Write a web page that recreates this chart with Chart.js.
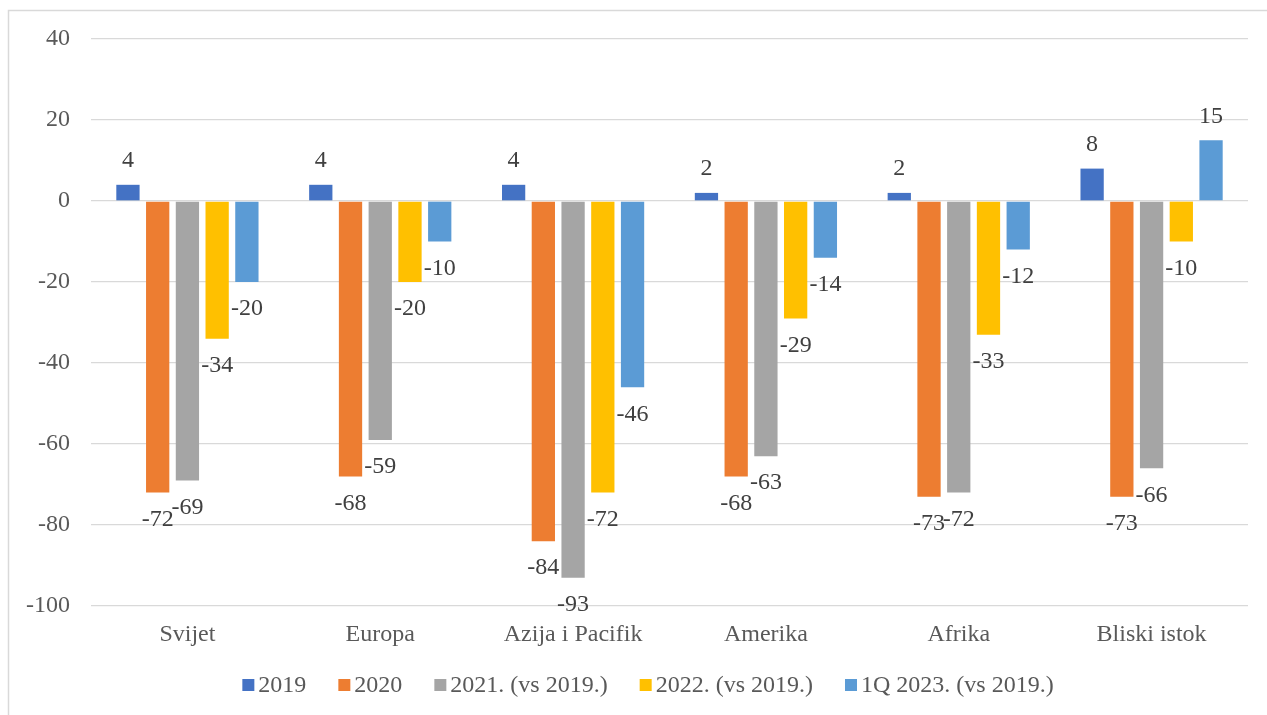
<!DOCTYPE html>
<html>
<head>
<meta charset="utf-8">
<script src="https://cdn.jsdelivr.net/npm/chart.js@4/dist/chart.umd.min.js"></script>
<style>
  html, body { margin: 0; padding: 0; background: #fff; }
  #wrap { position: relative; width: 1267px; height: 715px; overflow: hidden; }
</style>
</head>
<body>
<div id="wrap"><canvas id="chart" width="1267" height="715"></canvas></div>
<script>
const categories = ['Svijet', 'Europa', 'Azija i Pacifik', 'Amerika', 'Afrika', 'Bliski istok'];
const seriesNames = ['2019', '2020', '2021. (vs 2019.)', '2022. (vs 2019.)', '1Q 2023. (vs 2019.)'];
const values2019 = [4, 4, 4, 2, 2, 8];
const values2020 = [-72, -68, -84, -68, -73, -73];
const values2021 = [-69, -59, -93, -63, -72, -66];
const values2022 = [-34, -20, -72, -29, -33, -10];
const values1Q2023 = [-20, -10, -46, -14, -12, 15];
const yTicks = [40, 20, 0, -20, -40, -60, -80, -100];

const colors = ['#4472C4', '#ED7D31', '#A5A5A5', '#FFC000', '#5B9BD5'];
const FONT = '"Liberation Serif", "Times New Roman", serif';

// okvir grafikona (samo lijevi i gornji rub su vidljivi)
const framePlugin = {
  id: 'frame',
  beforeDraw(chart) {
    const ctx = chart.ctx;
    ctx.save();
    ctx.strokeStyle = '#D9D9D9';
    ctx.lineWidth = 1.5;
    ctx.strokeRect(8.5, 10.5, 1400, 900);
    ctx.restore();
  }
};

// oznake vrijednosti iznad / ispod stupaca
const labelsPlugin = {
  id: 'barLabels',
  afterDatasetsDraw(chart) {
    const ctx = chart.ctx;
    ctx.save();
    ctx.font = '24px ' + FONT;
    ctx.fillStyle = '#404040';
    ctx.textAlign = 'center';
    ctx.textBaseline = 'middle';
    chart.data.datasets.forEach((ds, i) => {
      chart.getDatasetMeta(i).data.forEach((bar, j) => {
        const v = ds.data[j];
        const y = v >= 0 ? bar.y - 24 : bar.y + 27;
        ctx.fillText(String(v), bar.x, y);
      });
    });
    ctx.restore();
  }
};

// legenda ispod grafikona
const legendPlugin = {
  id: 'bottomLegend',
  afterDraw(chart) {
    const ctx = chart.ctx;
    ctx.save();
    ctx.font = '24px ' + FONT;
    ctx.textBaseline = 'middle';
    const box = 12, gapText = 4, gapItem = 32, cy = 685;
    const items = chart.data.datasets.map(ds => ({
      label: ds.label, color: ds.backgroundColor, w: ctx.measureText(ds.label).width
    }));
    let total = 0;
    items.forEach((it, k) => { total += box + gapText + it.w + (k < items.length - 1 ? gapItem : 0); });
    let x = 648 - total / 2;
    items.forEach(it => {
      ctx.fillStyle = it.color;
      ctx.fillRect(x, cy - box / 2, box, box);
      ctx.fillStyle = '#595959';
      ctx.fillText(it.label, x + box + gapText, cy + 1);
      x += box + gapText + it.w + gapItem;
    });
    ctx.restore();
  }
};

const allValues = [values2019, values2020, values2021, values2022, values1Q2023];

new Chart(document.getElementById('chart').getContext('2d'), {
  type: 'bar',
  data: {
    labels: categories,
    datasets: allValues.map((vals, i) => ({
      label: seriesNames[i],
      data: vals,
      backgroundColor: colors[i],
      borderWidth: 0,
      categoryPercentage: 0.771,
      barPercentage: 0.783
    }))
  },
  options: {
    responsive: false,
    animation: false,
    devicePixelRatio: 1,
    layout: { padding: { left: 0, right: 19, top: 39, bottom: 59 } },
    plugins: {
      legend: { display: false },
      tooltip: { enabled: false }
    },
    scales: {
      x: {
        grid: { display: false, drawTicks: false },
        border: { display: false },
        ticks: { color: '#595959', font: { family: FONT, size: 24 }, padding: 14 },
        afterFit(scale) { scale.height = 50; }
      },
      y: {
        min: -100,
        max: 40,
        afterBuildTicks(scale) { scale.ticks = yTicks.map(v => ({ value: v })); },
        grid: { color: '#D9D9D9', lineWidth: 1.3, drawTicks: false },
        border: { display: false },
        ticks: { color: '#595959', font: { family: FONT, size: 24 }, padding: 21 },
        afterFit(scale) { scale.width = 91; }
      }
    }
  },
  plugins: [framePlugin, labelsPlugin, legendPlugin]
});
</script>
</body>
</html>
